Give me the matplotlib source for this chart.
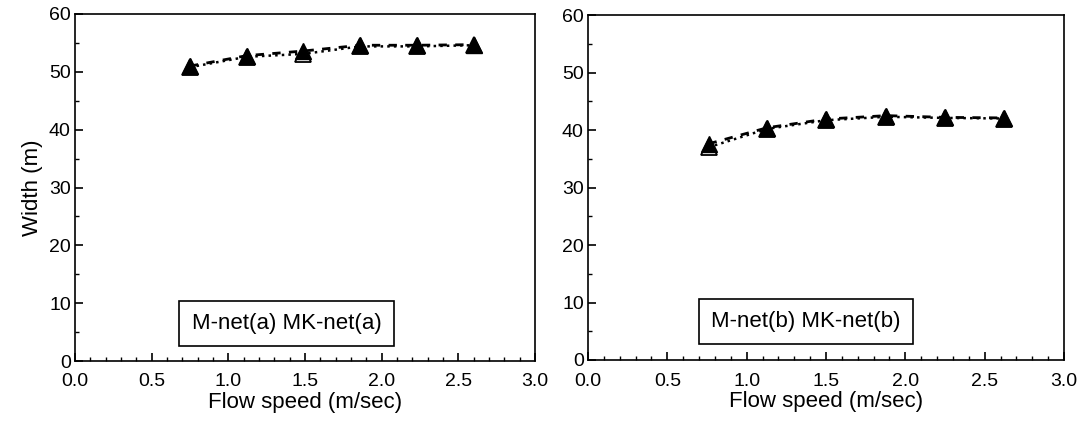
import matplotlib.pyplot as plt
from matplotlib.ticker import MultipleLocator

plt.rcParams['font.family'] = ['Liberation Sans', 'DejaVu Sans']

# flow speed (m/sec)
speed_a = [0.75, 1.12, 1.49, 1.86, 2.23, 2.60]
speed_b = [0.76, 1.13, 1.50, 1.88, 2.25, 2.62]

# width (m)
m_net_a = [50.8, 52.6, 53.1, 54.4, 54.4, 54.6]
mk_net_a = [51.0, 52.8, 53.6, 54.6, 54.6, 54.7]
m_net_b = [37.0, 40.2, 41.7, 42.3, 42.1, 42.0]
mk_net_b = [37.6, 40.4, 41.9, 42.5, 42.2, 42.1]

labels = ["M-net(a) MK-net(a)", "M-net(b) MK-net(b)"]

fig = plt.figure(figsize=(10.79, 4.22), dpi=100)
W, H = 1079, 422
ax1 = fig.add_axes([75 / W, 1 - 361 / H, 460 / W, 347 / H])
ax2 = fig.add_axes([588 / W, 1 - 360 / H, 476 / W, 345 / H])

panels = [
    (ax1, speed_a, m_net_a, mk_net_a, labels[0], (183, 299, 390, 348)),
    (ax2, speed_b, m_net_b, mk_net_b, labels[1], (700, 297, 912, 346)),
]

for ax, xs, m, mk, lab, box in panels:
    ax.plot(xs, m, color='black', linestyle=':', linewidth=1.8,
            marker='^', markersize=12, markerfacecolor='white',
            markeredgecolor='black', markeredgewidth=1.3)
    ax.plot(xs, mk, color='black', linestyle=(0, (3, 3)), linewidth=2.0,
            marker='^', markersize=12, markerfacecolor='black',
            markeredgecolor='black')
    ax.set_xlim(0, 3.0)
    ax.set_ylim(0, 60)
    ax.xaxis.set_major_locator(MultipleLocator(0.5))
    ax.xaxis.set_minor_locator(MultipleLocator(0.1))
    ax.yaxis.set_major_locator(MultipleLocator(10))
    ax.yaxis.set_minor_locator(MultipleLocator(5))
    ax.tick_params(which='both', direction='in', labelsize=14)
    ax.tick_params(which='major', length=6, width=1.2)
    ax.tick_params(which='minor', length=3, width=1)
    ax.xaxis.set_major_formatter(plt.FuncFormatter(lambda v, p: f"{v:.1f}"))
    for s in ax.spines.values():
        s.set_linewidth(1.2)
    ax.set_xlabel("Flow speed (m/sec)", fontsize=16, labelpad=1)
    ax.tick_params(axis='x', pad=9)
    ax.tick_params(axis='y', pad=3)
    x0, y0, x1, y1 = box
    ax.text((x0 + x1) / 2 / W, 1 - (y0 + y1) / 2 / H, lab,
            transform=fig.transFigure, ha='center', va='center', fontsize=16,
            bbox=dict(boxstyle='square,pad=0.55', facecolor='white',
                      edgecolor='black', linewidth=1.2))

ax1.set_ylabel("Width (m)", fontsize=16)

fig.savefig("out.png", dpi=100)
